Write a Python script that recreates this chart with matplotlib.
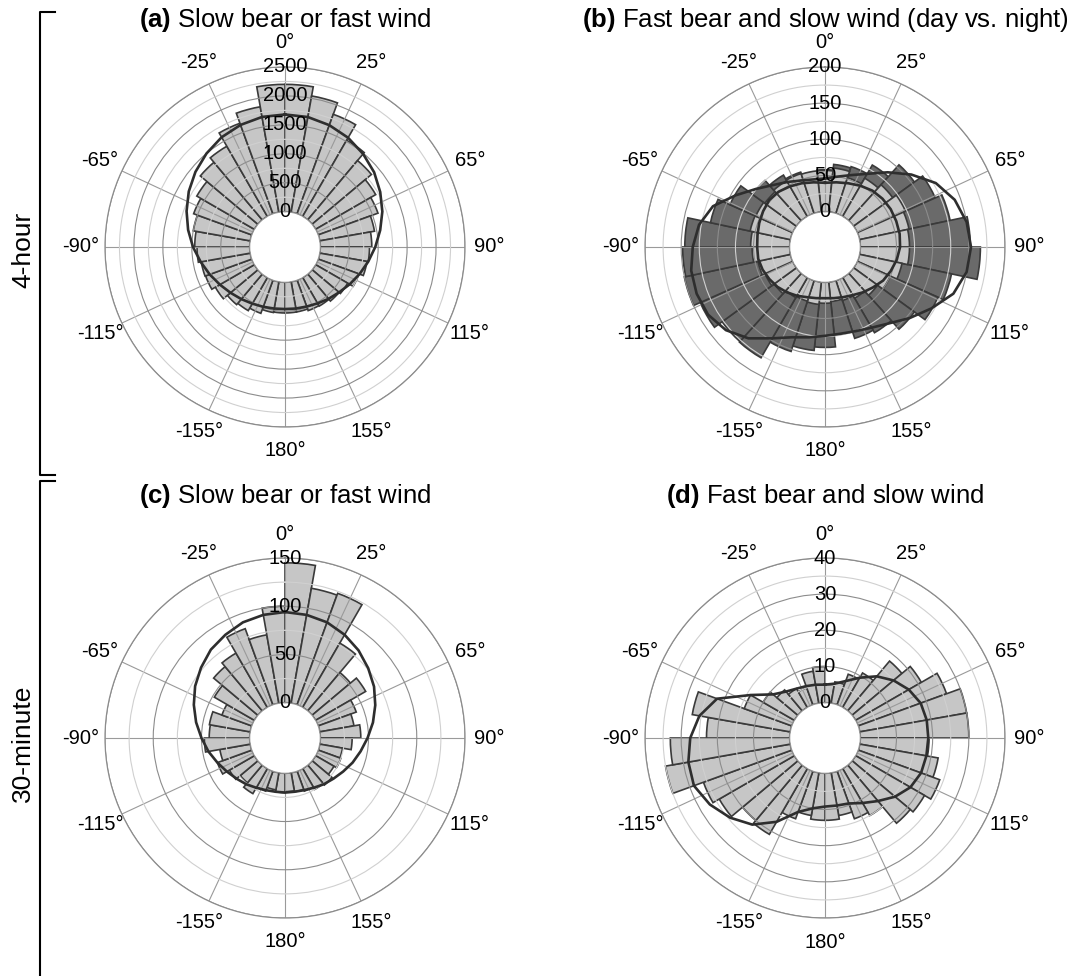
import numpy as np
import matplotlib
matplotlib.use('Agg')
import matplotlib.pyplot as plt
from matplotlib.lines import Line2D

plt.rcParams['font.family'] = ['Liberation Sans', 'DejaVu Sans']
plt.rcParams['mathtext.fontset'] = 'custom'
plt.rcParams['mathtext.rm'] = 'Liberation Sans'
plt.rcParams['mathtext.bf'] = 'Liberation Sans:bold'

# ---------------- data ----------------
grid_deg = [0, 25, 65, 90, 115, 155, 180, 205, 245, 270, 295, 335]
grid_labels = ['0°', '25°', '65°', '90°', '115°', '155°', '180°',
               '-155°', '-115°', '-90°', '-65°', '-25°']

bins10 = list(range(0, 360, 10))      # bin start (deg, clockwise from north)
bins12 = list(range(0, 360, 12))      # bin centre (deg) for panel b
curve_deg = list(range(0, 360, 10))   # angles where fitted curves were read

a_counts = [2200, 2040, 1830, 1520, 1340, 1200, 1100, 960, 890, 850, 830, 750,
            640, 610, 570, 560, 530, 530, 530, 540, 610, 660, 690, 780,
            850, 860, 910, 950, 1000, 1070, 1150, 1300, 1400, 1665, 1850, 2200]
a_curve = [1680, 1670, 1630, 1570, 1490, 1400, 1290, 1180, 1060, 950, 850, 760,
           680, 610, 560, 515, 485, 470, 462, 470, 490, 520, 565, 620,
           690, 775, 870, 980, 1090, 1200, 1310, 1410, 1500, 1580, 1635, 1672]

b_day_counts = [57, 61, 52, 61, 67, 73, 70, 68, 68, 60, 50, 41, 33, 29, 27,
                29, 31, 30, 32, 38, 42, 46, 52, 54, 57, 56, 54, 57, 58, 57]
b_night_counts = [58, 66, 68, 82, 104, 118, 128, 152, 166, 130, 122, 104, 88, 84, 74,
                  90, 95, 103, 128, 127, 140, 150, 148, 145, 113, 95, 75, 66, 60, 56]
b_day_curve = [40, 42, 45, 49, 53, 55, 56, 56, 56, 55, 52, 48, 44, 38, 33, 28, 25, 23,
               22, 23, 25, 29, 33, 37, 40, 43, 45, 45, 46, 48, 50, 52, 51, 48, 45, 42]
b_night_curve = [46, 50, 57, 68, 86, 107, 128, 142, 150, 153, 150, 140, 121, 104, 89, 80, 75, 73,
                 74, 78, 84, 97, 116, 130, 138, 140, 139, 134, 128, 116, 94, 76, 63, 55, 49, 46]

c_counts = [145, 121, 123, 77, 52, 60, 42, 36, 42, 33, 24, 25, 22, 27, 25, 22, 20, 19,
            20, 18, 22, 30, 24, 30, 38, 32, 47, 42, 43, 33, 48, 60, 65, 84, 72, 100]
c_curve = [94, 93, 91, 87, 82, 76, 70, 63, 56, 49, 43, 38, 33, 29, 26, 23, 21, 20,
           20, 20, 21, 23, 26, 29, 33, 38, 44, 50, 57, 64, 71, 77, 83, 87, 91, 93]

d_counts = [5, 6, 9, 11, 18, 21, 26, 30, 30, 19, 22, 24, 22, 21, 15, 14, 12, 13,
            13, 12, 14, 21, 20, 24, 26, 35, 33, 23, 27.5, 14, 10, 7.6, 6, 5, 9, 10]
d_curve = [5.0, 5.5, 7, 9.5, 12.5, 15, 17, 18.4, 18.8, 18.8, 18.7, 18.5, 17.5, 15.5, 13, 11, 9.5, 9.2,
           9.2, 10, 12, 17, 21.5, 24.5, 27, 28.8, 28.6, 27.5, 25.5, 22, 14, 9, 7, 6, 5.5, 5.2]

# ---------------- styling ----------------
LIGHT = '#c6c6c6'
DARK = '#6a6a6a'
EDGE = '#3a3a3a'
CURVE = '#2e2e2e'
HOLE = 0.196

W, H = 1083, 976
fig = plt.figure(figsize=(W / 100, H / 100), dpi=100)
R = 180
LABEL_R = 204


def make_ax(cx, cy):
    return fig.add_axes([(cx - R) / W, 1 - (cy + R) / H, 2 * R / W, 2 * R / H],
                        projection='polar')


def setup(ax, rmax, major, minor):
    ax.set_theta_zero_location('N')
    ax.set_theta_direction(-1)
    ax.set_rlim(0, rmax)
    ax.set_rorigin(-HOLE / (1 - HOLE) * rmax)
    ax.set_thetagrids(grid_deg, [''] * len(grid_deg))
    majors = list(range(0, rmax + 1, major))
    minors = [v for v in range(0, rmax + 1, minor) if v % major != 0]
    ax.set_yticks(majors)
    ax.set_yticks(minors, minor=True)
    ax.set_yticklabels([])
    ax.tick_params(axis='both', which='both', length=0)
    ax.yaxis.grid(True, which='major', color='#8c8c8c', lw=0.8)
    ax.yaxis.grid(True, which='minor', color='#d0d0d0', lw=0.8)
    ax.xaxis.grid(True, which='major', color='#9a9a9a', lw=0.8)
    ax.set_axisbelow(False)
    ax.spines['polar'].set_color('#8c8c8c')
    ax.spines['polar'].set_linewidth(0.9)
    ax.spines['inner'].set_color('#9a9a9a')
    ax.spines['inner'].set_linewidth(0.8)
    # angular labels around the outside (axes-fraction placement)
    rho = LABEL_R / (2 * R)
    for deg, lab in zip(grid_deg, grid_labels):
        t = np.deg2rad(deg)
        ax.text(0.5 + rho * np.sin(t), 0.5 + rho * np.cos(t), lab,
                transform=ax.transAxes, ha='center', va='center', fontsize=14.5)
    # radial labels along the 0° line
    for v in majors:
        ax.text(0, v, f'{v}', ha='center', va='center', fontsize=14.5, zorder=6)


def bars10(ax, counts, fc):
    ax.bar(np.deg2rad(bins10), counts, width=np.deg2rad(10), align='edge',
           color=fc, edgecolor=EDGE, linewidth=1.2, zorder=1)


def curve(ax, vals):
    th = np.deg2rad(curve_deg + [360])
    ax.plot(th, list(vals) + [vals[0]], color=CURVE, lw=1.9, zorder=4)


# (a)
ax = make_ax(285, 247)
setup(ax, 2500, 500, 250)
bars10(ax, a_counts, LIGHT)
curve(ax, a_curve)

# (b)
ax = make_ax(825, 247)
setup(ax, 200, 50, 25)
ax.bar(np.deg2rad(bins12), b_night_counts, width=np.deg2rad(12), align='center',
       color=DARK, edgecolor=EDGE, linewidth=1.2, zorder=1)
ax.bar(np.deg2rad(bins12), b_day_counts, width=np.deg2rad(12), align='center',
       color=LIGHT, edgecolor=EDGE, linewidth=1.2, zorder=1.2)
curve(ax, b_night_curve)
curve(ax, b_day_curve)

# (c)
ax = make_ax(285, 738)
setup(ax, 150, 50, 25)
bars10(ax, c_counts, LIGHT)
curve(ax, c_curve)

# (d)
ax = make_ax(825, 738)
setup(ax, 40, 10, 5)
bars10(ax, d_counts, LIGHT)
curve(ax, d_curve)

# titles
TFS = 18.5
fig.text(285 / W, 1 - 20 / H, r'$\mathbf{(a)}$ Slow bear or fast wind', ha='center', va='center', fontsize=TFS)
fig.text(825 / W, 1 - 20 / H, r'$\mathbf{(b)}$ Fast bear and slow wind (day vs. night)', ha='center', va='center', fontsize=TFS)
fig.text(285 / W, 1 - 496 / H, r'$\mathbf{(c)}$ Slow bear or fast wind', ha='center', va='center', fontsize=TFS)
fig.text(825 / W, 1 - 496 / H, r'$\mathbf{(d)}$ Fast bear and slow wind', ha='center', va='center', fontsize=TFS)

# row labels and brackets
fig.text(23 / W, 1 - 250 / H, '4-hour', rotation=90, ha='center', va='center', fontsize=19)
fig.text(23 / W, 1 - 743 / H, '30-minute', rotation=90, ha='center', va='center', fontsize=19)

for xs, ys in [([55, 40, 40, 55], [12, 12, 475, 475]),
               ([55, 40, 40], [481, 481, 976])]:
    fig.add_artist(Line2D([x / W for x in xs], [1 - y / H for y in ys],
                          color='black', lw=1.5, transform=fig.transFigure))

fig.savefig('out.png', dpi=100, facecolor='white')
